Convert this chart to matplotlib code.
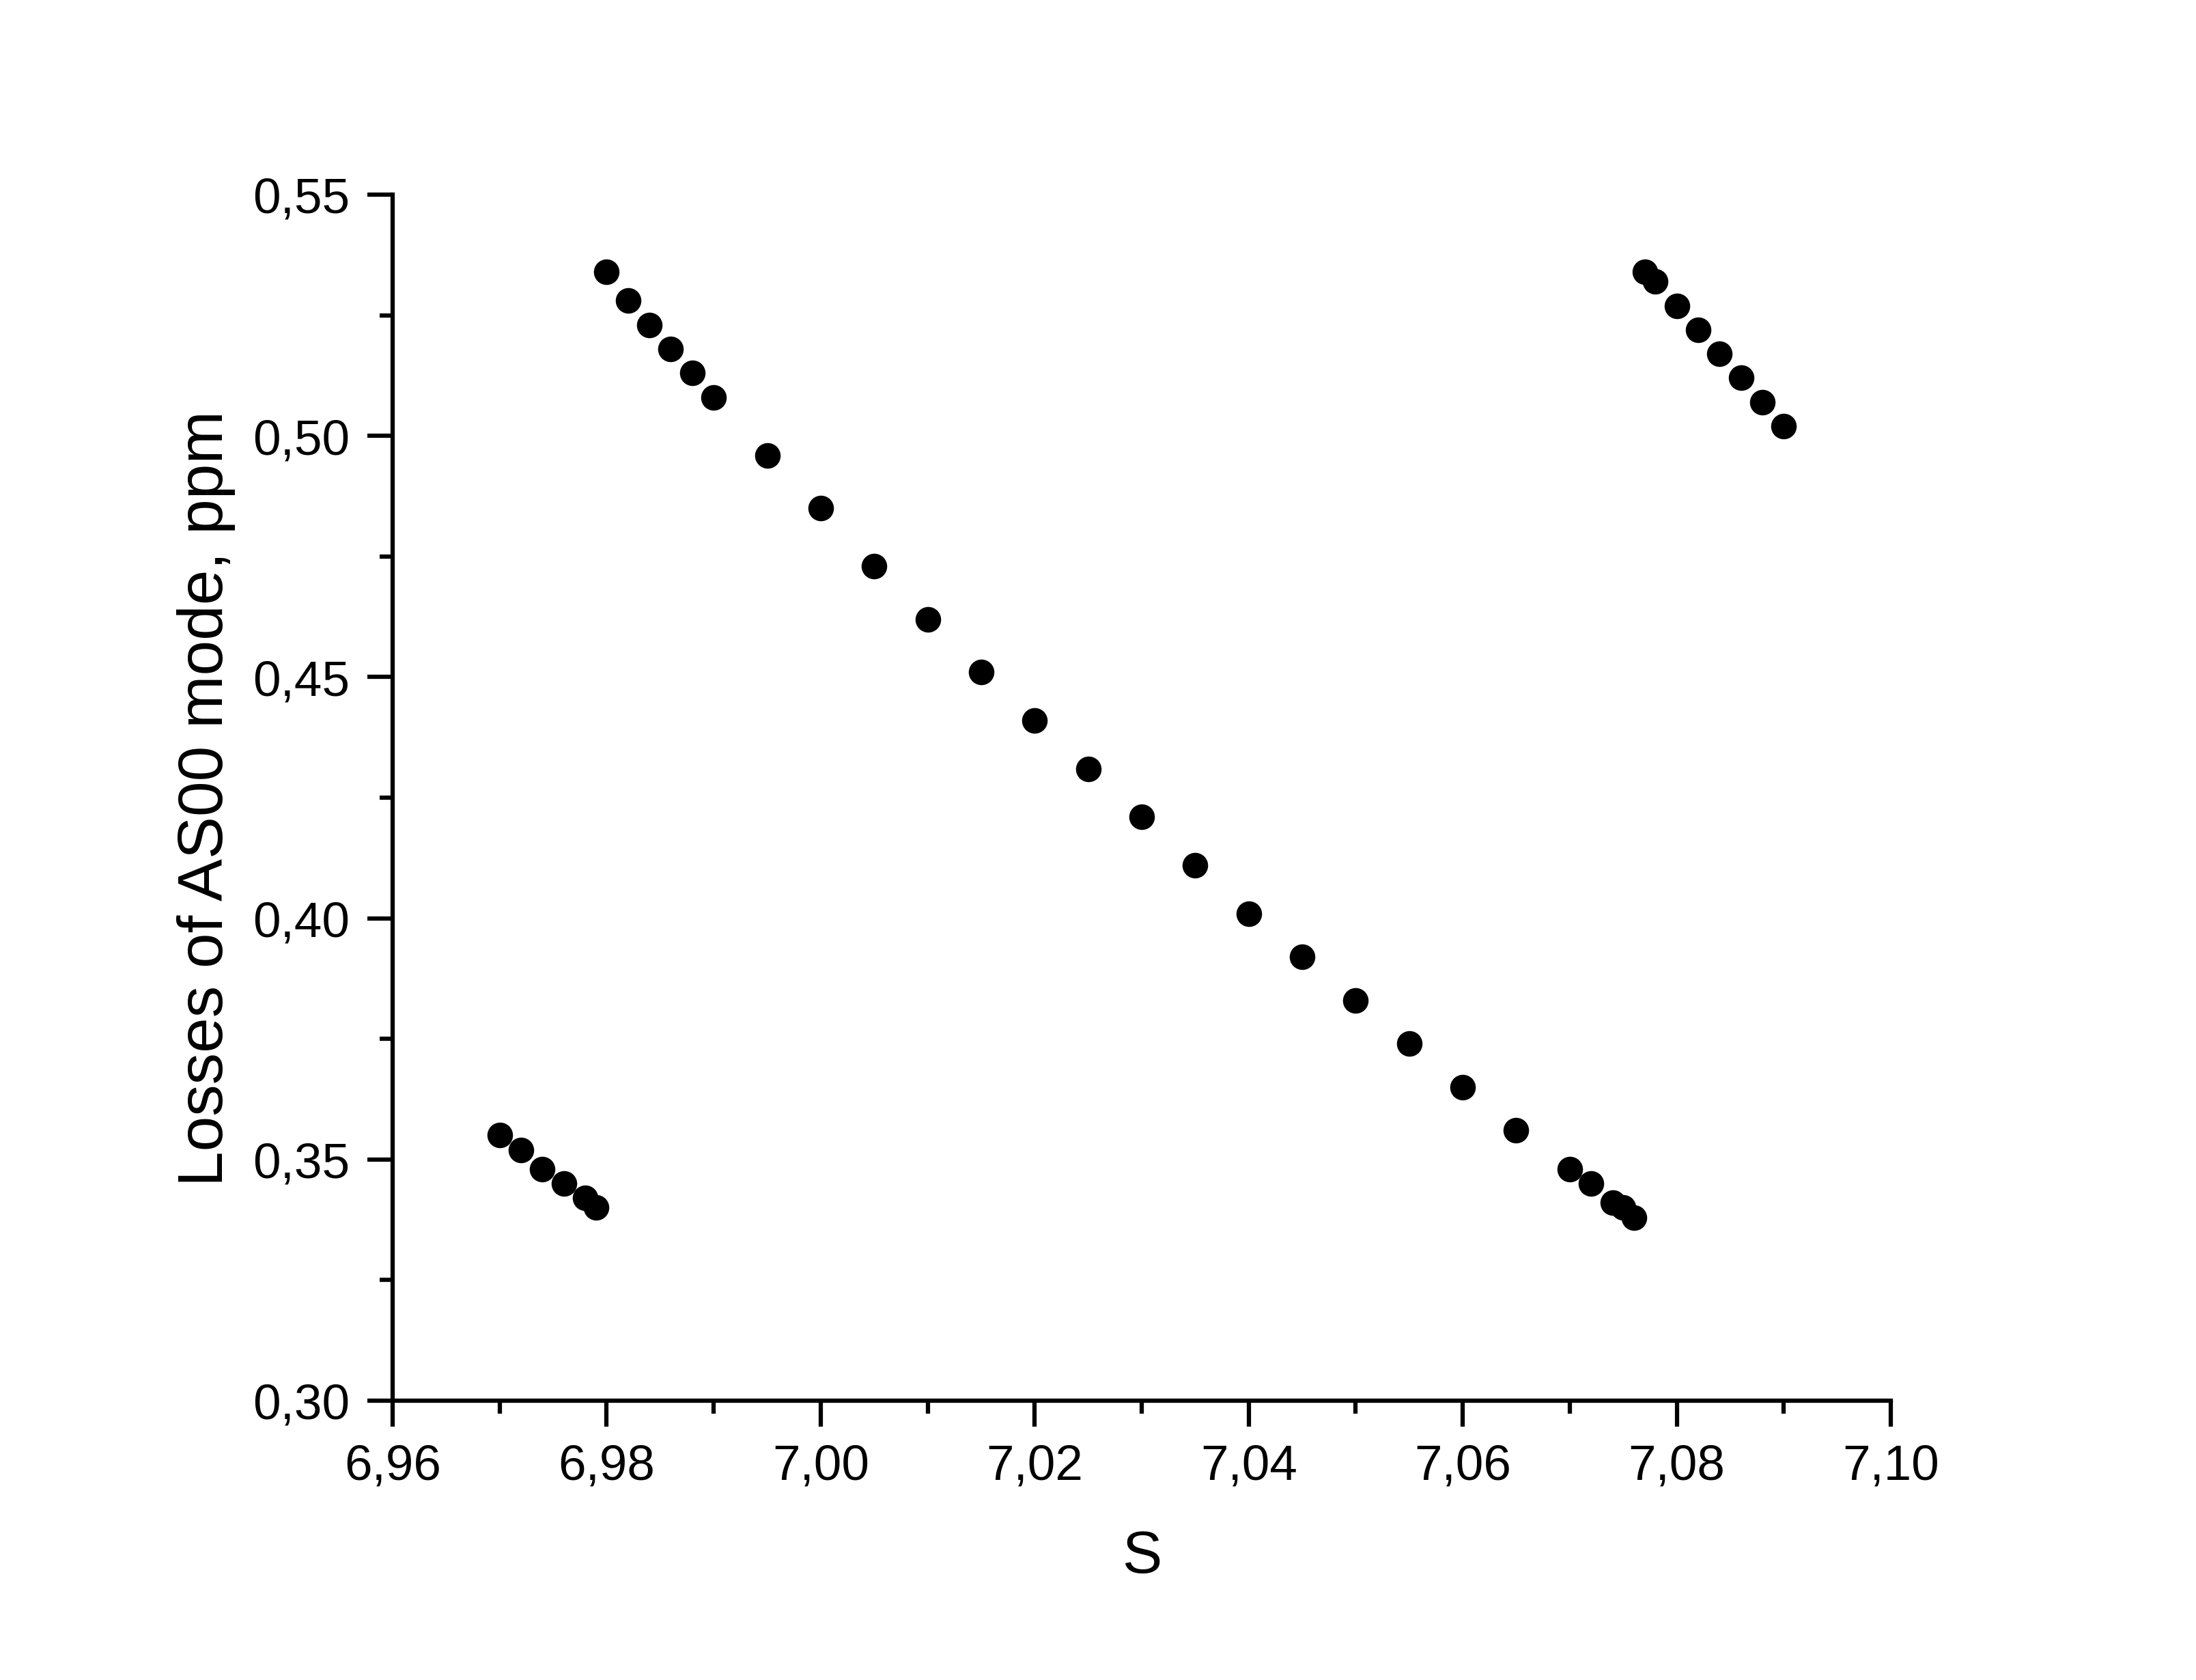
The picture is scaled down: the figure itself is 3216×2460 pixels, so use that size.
import matplotlib.pyplot as plt
from matplotlib.ticker import MultipleLocator, FuncFormatter

plt.rcParams['font.family'] = ['Liberation Sans', 'DejaVu Sans']

# lower-left branch
s_left = [6.970, 6.972, 6.974, 6.976, 6.978, 6.979]
loss_left = [0.355, 0.352, 0.348, 0.345, 0.342, 0.340]

# main branch
s_mid = [6.980, 6.982, 6.984, 6.986, 6.988, 6.990, 6.995, 7.000, 7.005, 7.010,
         7.015, 7.020, 7.025, 7.030, 7.035, 7.040, 7.045, 7.050, 7.055, 7.060,
         7.065, 7.070, 7.072, 7.074, 7.075, 7.076]
loss_mid = [0.534, 0.528, 0.523, 0.518, 0.513, 0.508, 0.496, 0.485, 0.473, 0.462,
            0.451, 0.441, 0.431, 0.421, 0.411, 0.401, 0.392, 0.383, 0.374, 0.365,
            0.356, 0.348, 0.345, 0.341, 0.340, 0.338]

# upper-right branch
s_right = [7.077, 7.078, 7.080, 7.082, 7.084, 7.086, 7.088, 7.090]
loss_right = [0.534, 0.532, 0.527, 0.522, 0.517, 0.512, 0.507, 0.502]


def comma(v, pos):
    return f'{v:.2f}'.replace('.', ',')


def main():
    fig = plt.figure(figsize=(10.72, 8.203), dpi=300)
    ax = fig.add_axes([0.1788, 0.1662, 0.6822, 0.7176])

    for xs, ys in ((s_left, loss_left), (s_mid, loss_mid), (s_right, loss_right)):
        ax.plot(xs, ys, 'o', color='black', markersize=9, markeredgewidth=0)

    ax.set_xlim(6.96, 7.10)
    ax.set_ylim(0.30, 0.55)
    ax.xaxis.set_major_locator(MultipleLocator(0.02))
    ax.xaxis.set_minor_locator(MultipleLocator(0.01))
    ax.yaxis.set_major_locator(MultipleLocator(0.05))
    ax.yaxis.set_minor_locator(MultipleLocator(0.025))
    ax.xaxis.set_major_formatter(FuncFormatter(comma))
    ax.yaxis.set_major_formatter(FuncFormatter(comma))

    for side in ('top', 'right'):
        ax.spines[side].set_visible(False)
    for side in ('left', 'bottom'):
        ax.spines[side].set_linewidth(1.5)

    ax.tick_params(which='major', direction='out', length=9, width=1.5,
                   labelsize=17.5, pad=6)
    ax.tick_params(which='minor', direction='out', length=4.5, width=1.5)

    ax.set_xlabel('S', fontsize=21, labelpad=14)
    ax.set_ylabel('Losses of AS00 mode, ppm', fontsize=22.3, labelpad=6)

    fig.savefig('out.png', dpi=300)


if __name__ == '__main__':
    main()
